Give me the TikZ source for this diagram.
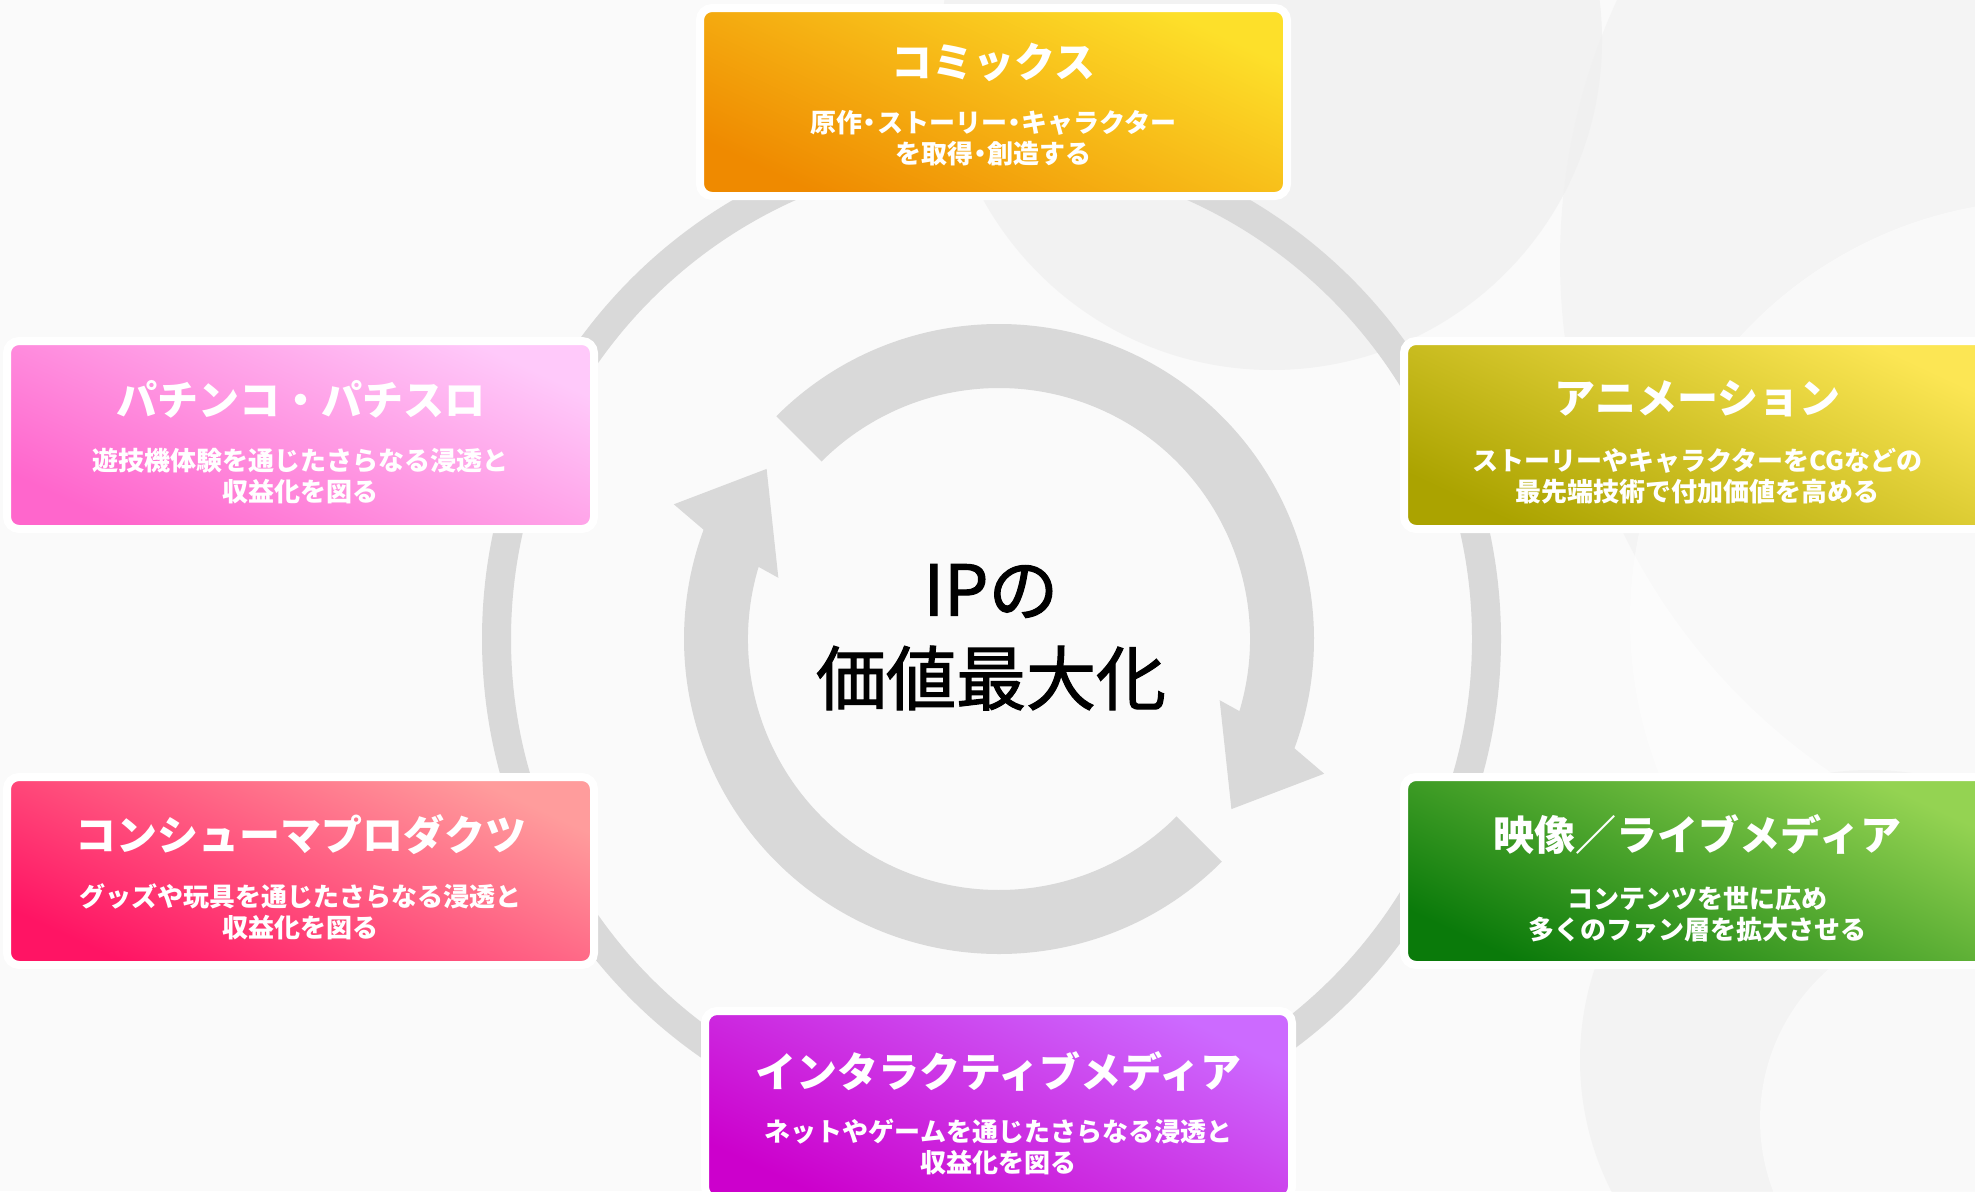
\documentclass[tikz,border=0pt]{standalone}
\usepackage{fontspec}
\setmainfont{Noto Sans CJK JP}
\newfontfamily\centerfont{Noto Sans CJK JP}[FakeBold=1.6]
\usetikzlibrary{calc}
\definecolor{bgc}{HTML}{FAFAFA}
\definecolor{swoosh}{HTML}{EFEFEF}
\definecolor{ringgray}{HTML}{D9D9D9}
\definecolor{comA}{HTML}{FDE02A}\definecolor{comB}{HTML}{EF8A00}
\definecolor{pacA}{HTML}{FFC9FA}\definecolor{pacB}{HTML}{FF66CC}
\definecolor{aniA}{HTML}{FCE654}\definecolor{aniB}{HTML}{ABA300}
\definecolor{conA}{HTML}{FF9C9C}\definecolor{conB}{HTML}{FF1464}
\definecolor{vidA}{HTML}{94D352}\definecolor{vidB}{HTML}{0A7A0A}
\definecolor{intA}{HTML}{CC6AFF}\definecolor{intB}{HTML}{CC00CC}
\newcommand{\nkdot}{\kern-.22em・\kern-.22em}
\tikzset{
  ipbox/.style 2 args={rectangle, rounded corners=12pt, minimum width=587pt,
    minimum height=188pt, draw=white, line width=8pt, inner sep=0pt,
    top color=#1, bottom color=#2, shading angle=-25},
  ttl/.style={text=white, inner sep=0pt, font=\fontsize{41}{48}\selectfont\bfseries},
  subt/.style={text=white, inner sep=0pt, align=center, font=\fontsize{26}{31}\selectfont\bfseries},
  centertxt/.style={text=black, inner sep=0pt, font=\fontsize{70}{80}\selectfont\centerfont},
}
\begin{document}
\begin{tikzpicture}[x=1pt,y=-1pt]
\useasboundingbox (0,0) rectangle (1975,1191);
\fill[bgc] (0,0) rectangle (1975,1191);
% faint background swooshes
\begin{scope}
\clip (0,0) rectangle (1975,1191);
\fill[swoosh, opacity=0.7] (1272,40) circle[radius=330];
\fill[swoosh, opacity=0.5] (2180,260) circle[radius=620];
\fill[white, opacity=0.5] (2050,620) circle[radius=420];
\fill[swoosh, opacity=0.6] (1870,1060) circle[radius=290];
\fill[white, opacity=0.5] (1960,1120) circle[radius=200];
\end{scope}
% outer ring
\coordinate (R) at (991.5,639);
\draw[ringgray, line width=29pt] (R) circle[radius=495];
% inner cycle arrows
\coordinate (C) at (999,639);
\fill[ringgray] ($(C)+(45:315)$) arc[start angle=45, end angle=200.3, radius=315]
  -- ($(C)+(202.5:352)$) -- ($(C)+(216.2:288)$) -- ($(C)+(195.5:229)$)
  -- ($(C)+(196.7:251)$) arc[start angle=196.7, end angle=45, radius=251] -- cycle;
\fill[ringgray] ($(C)+(-135:315)$) arc[start angle=-135, end angle=20.3, radius=315]
  -- ($(C)+(22.5:352)$) -- ($(C)+(36.2:288)$) -- ($(C)+(15.5:229)$)
  -- ($(C)+(16.7:251)$) arc[start angle=16.7, end angle=-135, radius=251] -- cycle;
\node[centertxt] (ip) at (991,591) {IPの};
\node[centertxt] (val) at (991,678) {価値最大化};
% boxes
\node[ipbox={comA}{comB}] (com) at (993.5,102) {};
\node[ttl] (comT) at ($(com.center)+(0,-40)$) {コミックス};
\node[subt] (comS) at ($(com.center)+(0,36)$) {原作\nkdot ストーリー\nkdot キャラクター\\を取得\nkdot 創造する};

\node[ipbox={pacA}{pacB}] (pac) at (300.5,435) {};
\node[ttl] (pacT) at ($(pac.center)+(0,-36)$) {パチンコ・パチスロ};
\node[subt] (pacS) at ($(pac.center)+(0,41)$) {遊技機体験を通じたさらなる浸透と\\収益化を図る};

\node[ipbox={aniA}{aniB}] (ani) at (1697.5,435) {};
\node[ttl] (aniT) at ($(ani.center)+(0,-36)$) {アニメーション};
\node[subt] (aniS) at ($(ani.center)+(0,41)$) {ストーリーやキャラクターをCGなどの\\最先端技術で付加価値を高める};

\node[ipbox={conA}{conB}] (con) at (300.5,871) {};
\node[ttl] (conT) at ($(con.center)+(0,-36)$) {コンシューマプロダクツ};
\node[subt] (conS) at ($(con.center)+(0,41)$) {グッズや玩具を通じたさらなる浸透と\\収益化を図る};

\node[ipbox={vidA}{vidB}] (vid) at (1697.5,871) {};
\node[ttl] (vidT) at ($(vid.center)+(0,-36)$) {映像／ライブメディア};
\node[subt] (vidS) at ($(vid.center)+(0,43)$) {コンテンツを世に広め\\多くのファン層を拡大させる};

\node[ipbox={intA}{intB}] (int) at (998.5,1105) {};
\node[ttl] (intT) at ($(int.center)+(0,-34)$) {インタラクティブメディア};
\node[subt] (intS) at ($(int.center)+(0,42)$) {ネットやゲームを通じたさらなる浸透と\\収益化を図る};
\end{tikzpicture}
\end{document}
